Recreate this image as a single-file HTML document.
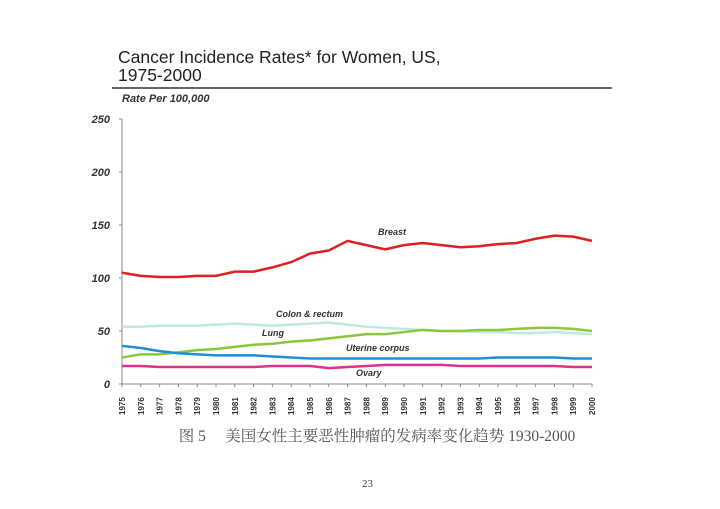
<!DOCTYPE html>
<html><head><meta charset="utf-8"><style>
body{margin:0;background:#fff;width:720px;height:509px;overflow:hidden}
svg{display:block}
</style></head><body>
<svg id="s" width="720" height="509" xmlns="http://www.w3.org/2000/svg" font-family="Liberation Sans, sans-serif">
<text x="118" y="63" font-size="17.5" fill="#222">Cancer Incidence Rates* for Women, US,</text>
<text x="118" y="81" font-size="17.5" fill="#222">1975-2000</text>
<line x1="112" y1="88" x2="612" y2="88" stroke="#333" stroke-width="1.5"/>
<text x="122" y="102" font-size="11" font-style="italic" font-weight="bold" fill="#333">Rate Per 100,000</text>
<line x1="122" y1="119" x2="122" y2="384" stroke="#888"/>
<line x1="122" y1="384" x2="592" y2="384" stroke="#888"/>
<g id="yt" font-size="11" font-style="italic" font-weight="bold" fill="#333" text-anchor="end"></g>
<g id="xt" font-size="8" font-weight="bold" fill="#333"></g>
<g id="ln" fill="none" stroke-width="2.5"></g>
<g font-size="9" font-style="italic" font-weight="bold" fill="#333">
<text x="378" y="235">Breast</text>
<text x="276" y="317">Colon &amp; rectum</text>
<text x="262" y="336">Lung</text>
<text x="346" y="351">Uterine corpus</text>
<text x="356" y="376">Ovary</text>
</g>
<text x="377" y="441" font-size="15.5" fill="#555" text-anchor="middle" font-family="Liberation Serif, Noto Serif CJK SC, serif">图 5　 美国女性主要恶性肿瘤的发病率变化趋势 1930-2000</text>
<text x="362" y="487" font-size="11" fill="#444" font-family="Liberation Serif, serif">23</text>
</svg>
<script>
var ns="http://www.w3.org/2000/svg";
function X(i){return 122+i*18.8}function Y(v){return 384-v*1.06}
var yt=document.getElementById('yt');
for(var v=0;v<=250;v+=50){var t=document.createElementNS(ns,'text');t.setAttribute('x',110);t.setAttribute('y',Y(v)+4);t.textContent=v;yt.appendChild(t);
var l=document.createElementNS(ns,'line');l.setAttribute('x1',119);l.setAttribute('x2',122);l.setAttribute('y1',Y(v));l.setAttribute('y2',Y(v));l.setAttribute('stroke','#888');yt.appendChild(l);}
var xt=document.getElementById('xt');
for(var i=0;i<26;i++){var t=document.createElementNS(ns,'text');t.setAttribute('transform','translate('+(X(i)+3)+',415) rotate(-90)');t.textContent=1975+i;xt.appendChild(t);
var l=document.createElementNS(ns,'line');l.setAttribute('x1',X(i));l.setAttribute('x2',X(i));l.setAttribute('y1',384);l.setAttribute('y2',387);l.setAttribute('stroke','#888');xt.appendChild(l);}
var S=[
['#bfeadb',[54,54,55,55,55,56,57,56,55,56,57,58,56,54,53,52,51,50,50,49,49,48,48,49,48,47]],
['#e02020',[105,102,101,101,102,102,106,106,110,115,123,126,135,131,127,131,133,131,129,130,132,133,137,140,139,135]],
['#8cc63f',[25,28,28,30,32,33,35,37,38,40,41,43,45,47,47,49,51,50,50,51,51,52,53,53,52,50]],
['#1e8fd0',[36,34,31,29,28,27,27,27,26,25,24,24,24,24,24,24,24,24,24,24,25,25,25,25,24,24]],
['#e0308a',[17,17,16,16,16,16,16,16,17,17,17,15,16,17,18,18,18,18,17,17,17,17,17,17,16,16]]];
var g=document.getElementById('ln');
S.forEach(function(s){var p=document.createElementNS(ns,'polyline');p.setAttribute('stroke',s[0]);
p.setAttribute('points',s[1].map(function(v,i){return X(i)+','+Y(v)}).join(' '));g.appendChild(p);});
</script>
</body></html>
